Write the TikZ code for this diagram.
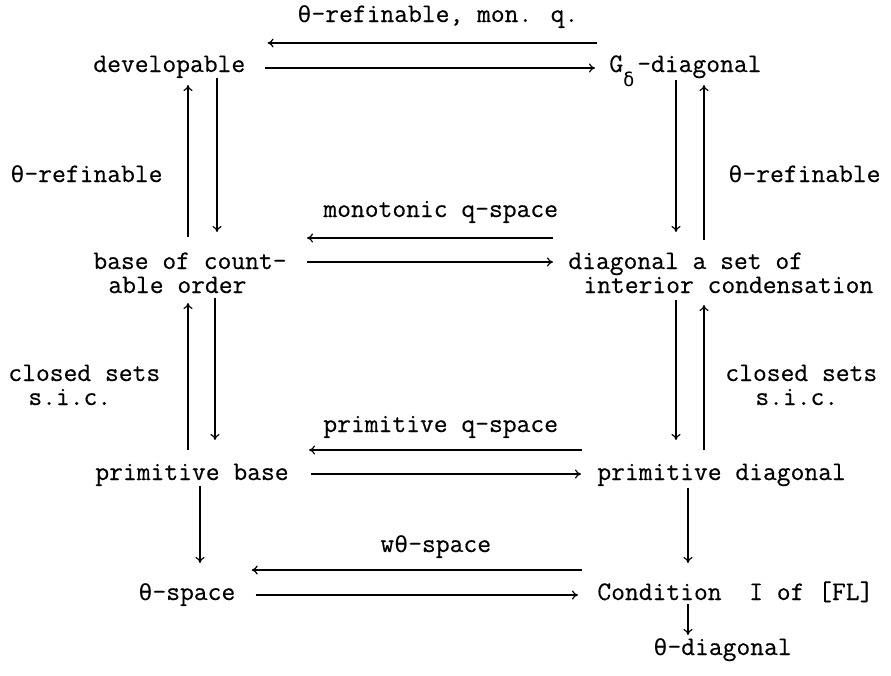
\documentclass[tikz,border=0pt]{standalone}
\usepackage{fontspec}
\newfontfamily\ttmono{Latin Modern Mono}[FakeBold=0.4, UprightFont=*, BoldFont=*, UprightFeatures={FakeBold=0.4}]
\newfontfamily\grkfont{DejaVu Sans Mono}
\usepackage{tikz}
\usetikzlibrary{calc}
\usetikzlibrary{arrows.meta}
% 希腊字母借用 DejaVu Sans Mono, 宽度同等宽字符
\newcommand{\thet}{\makebox[0.525em]{\grkfont\fontsize{11.5}{11.5}\selectfont θ}}
\newcommand{\delt}{\makebox[0.525em][l]{\raisebox{-7pt}{\grkfont\fontsize{9.5}{9.5}\selectfont δ}}}

\begin{document}
\begin{tikzpicture}[x=0.5pt, y=-0.5pt, font=\ttmono\fontsize{13.4}{12}\selectfont,
    txt/.style={anchor=base west, inner sep=0pt, align=left},
    imp/.style={-{To[length=3pt,width=4.5pt]}, line width=0.6pt}]
    \useasboundingbox (0,0) rectangle (891,676);
    % 四行结点
    \node[txt] (dev) at (93,72) {developable};
    \node[txt] (gd) at (609,72) {G\delt-diagonal};
    \node[txt] (boc) at (93,293) {base of count-\\\hspace*{7.5pt}able order};
    \node[txt] (dsic) at (568,293) {diagonal a set of\\\hspace*{7.5pt}interior condensation};
    \node[txt] (pb) at (95,480) {primitive base};
    \node[txt] (pd) at (597,480) {primitive diagonal};
    \node[txt] (ts) at (138,600) {\thet-space};
    \node[txt] (cond) at (597,600) {Condition~~I of [FL]};
    \node[txt] (td) at (653,655) {\thet-diagonal};
    % 箭头上的说明
    \node[txt] (lab1) at (297,22) {\thet-refinable, mon. q.};
    \node[txt] (lab2) at (323,217) {monotonic q-space};
    \node[txt] (lab3) at (323,432) {primitive q-space};
    \node[txt] (lab4) at (380,552) {w\thet-space};
    \node[txt] (lref) at (10,182) {\thet-refinable};
    \node[txt] (rref) at (728,182) {\thet-refinable};
    \node[txt] (lcs) at (8,405) {closed sets\\\hspace*{10pt}s.i.c.};
    \node[txt] (rcs) at (725,405) {closed sets\\\hspace*{15pt}s.i.c.};
    % 横向箭头
    \draw[imp] ($(gd.base west)+(-12,-29)$) -- ($(dev.base east)+(22,-29)$);
    \draw[imp] ($(dev.base east)+(19,-4)$) -- ($(gd.base west)+(-14,-4)$);
    \draw[imp] ($(dsic.base west)+(-15,-55)$) -- ($(boc.base east)+(20,-55)$);
    \draw[imp] ($(boc.base east)+(20,-31)$) -- ($(dsic.base west)+(-15,-31)$);
    \draw[imp] ($(pd.base west)+(-15,-30)$) -- ($(pb.base east)+(20,-30)$);
    \draw[imp] ($(pb.base east)+(22,-6)$) -- ($(pd.base west)+(-16,-6)$);
    \draw[imp] ($(cond.base west)+(-15,-30)$) -- ($(ts.base east)+(16,-30)$);
    \draw[imp] ($(ts.base east)+(20,-5)$) -- ($(cond.base west)+(-19,-5)$);
    % 竖向箭头
    \draw[imp] ($(boc.base west)+(95,-56)$) -- ($(dev.base west)+(95,13)$);
    \draw[imp] ($(dev.base west)+(124,6)$) -- ($(boc.base west)+(124,-61)$);
    \draw[imp] ($(gd.base west)+(67,8)$) -- ($(dsic.base west)+(108,-61)$);
    \draw[imp] ($(dsic.base west)+(136,-53)$) -- ($(gd.base west)+(95,13)$);
    \draw[imp] ($(pb.base west)+(93,-30)$) -- ($(boc.base west)+(95,10)$);
    \draw[imp] ($(boc.base west)+(122,5)$) -- ($(pb.base west)+(120,-40)$);
    \draw[imp] ($(dsic.base west)+(108,7)$) -- ($(pd.base west)+(79,-40)$);
    \draw[imp] ($(pd.base west)+(107,-30)$) -- ($(dsic.base west)+(136,12)$);
    \draw[imp] ($(pb.base west)+(105,6)$) -- ($(ts.base west)+(62,-37)$);
    \draw[imp] ($(pd.base west)+(91,8)$) -- ($(cond.base west)+(91,-37)$);
    \draw[imp] ($(cond.base west)+(91,4)$) -- ($(td.base west)+(35,-20)$);
\end{tikzpicture}
\end{document}
